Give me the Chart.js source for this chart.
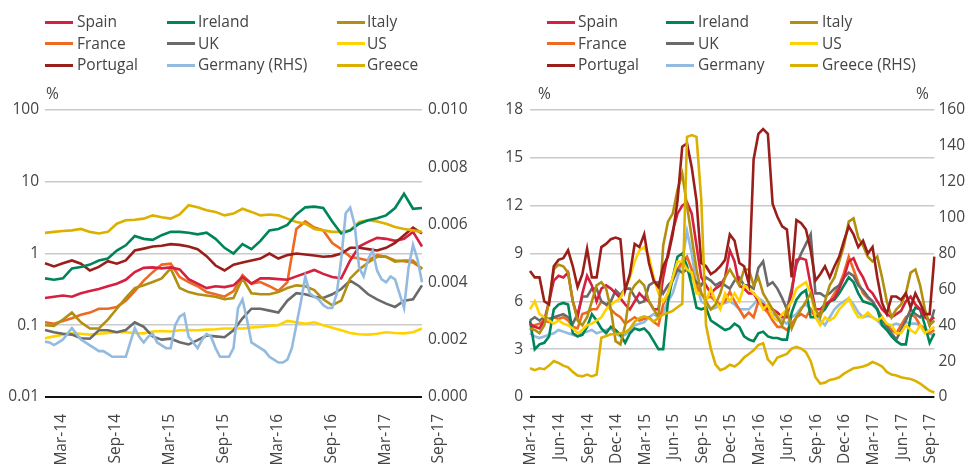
<!DOCTYPE html>
<html><head><meta charset="utf-8">
<script src="https://cdn.jsdelivr.net/npm/chart.js@4.4.1/dist/chart.umd.min.js"></script>
<style>
body{margin:0;background:#fff;width:970px;height:466px;overflow:hidden;font-family:'Open Sans',sans-serif;color:#444;}
.panel{position:absolute;top:0;width:485px;height:466px;}
canvas{position:absolute;left:0;top:0;}
.lg{position:absolute;font-size:15.5px;line-height:20px;white-space:nowrap;}
.sw{position:absolute;height:3px;width:28px;}
.pct{position:absolute;font-size:15.5px;line-height:20px;top:83px;}
</style></head><body>
<div class="panel" id="p1" style="left:0"><canvas id="c1" width="485" height="466"></canvas></div>
<div class="panel" id="p2" style="left:485px"><canvas id="c2" width="485" height="466"></canvas></div>
<script>
// ---------- categories ----------
const months = ['Mar-14','Apr-14','May-14','Jun-14','Jul-14','Aug-14','Sep-14','Oct-14','Nov-14','Dec-14',
 'Jan-15','Feb-15','Mar-15','Apr-15','May-15','Jun-15','Jul-15','Aug-15','Sep-15','Oct-15','Nov-15','Dec-15',
 'Jan-16','Feb-16','Mar-16','Apr-16','May-16','Jun-16','Jul-16','Aug-16','Sep-16','Oct-16','Nov-16','Dec-16',
 'Jan-17','Feb-17','Mar-17','Apr-17','May-17','Jun-17','Jul-17','Aug-17','Sep-17'];
const halfMonths = months.flatMap(m => [m, m + ' (mid)']);
const leftCategories = halfMonths.slice(0, 85);   // Mar-14 .. Sep-17
const leftXTicks = ['Mar-14','Sep-14','Mar-15','Sep-15','Mar-16','Sep-16','Mar-17','Sep-17'];
const rightXTicks = ['Mar-14','Jun-14','Sep-14','Dec-14','Mar-15','Jun-15','Sep-15','Dec-15','Mar-16','Jun-16','Sep-16','Dec-16','Mar-17','Jun-17','Sep-17'];
const leftYTicks = [0.01, 0.1, 1, 10, 100];
const leftYLabels = ['0.01','0.1','1','10','100'];

// ---------- left panel (monthly, %, log scale; Germany half-monthly on RHS) ----------
const spainL = [0.24,0.25,0.26,0.25,0.28,0.3,0.32,0.35,0.38,0.43, 0.55,0.63,0.64,0.62,0.64,0.6,0.44,0.38,0.33,0.35, 0.34,0.36,0.47,0.38,0.45,0.45,0.44,0.43,0.48,0.53, 0.59,0.52,0.47,0.45,0.8,1.25,1.45,1.65,1.6,1.5, 1.6,2.0,1.25];
const irelandL = [0.45,0.43,0.45,0.62,0.65,0.7,0.8,0.85,1.1,1.3, 1.75,1.6,1.55,1.8,2.0,2.0,1.95,1.85,1.95,1.6, 1.2,1.0,1.35,1.15,1.5,2.1,2.2,2.5,3.5,4.4, 4.5,4.3,2.8,1.9,2.1,2.6,2.9,3.1,3.4,4.3, 6.8,4.2,4.3];
const italyL = [0.1,0.098,0.12,0.15,0.11,0.09,0.09,0.12,0.17,0.24, 0.33,0.36,0.4,0.45,0.62,0.33,0.29,0.27,0.26,0.25, 0.23,0.24,0.45,0.28,0.27,0.27,0.29,0.33,0.36,0.35, 0.31,0.23,0.19,0.22,0.45,0.6,0.75,0.9,0.9,0.77, 0.8,0.8,0.6];
const franceL = [0.11,0.105,0.115,0.125,0.14,0.15,0.17,0.17,0.18,0.22, 0.3,0.42,0.55,0.7,0.72,0.47,0.4,0.35,0.29,0.27, 0.25,0.3,0.5,0.38,0.4,0.35,0.3,0.4,2.2,2.8, 2.3,2.1,1.4,1.15,0.9,0.85,0.8,0.95,0.9,0.8, 0.78,0.75,0.62];
const ukL = [0.086,0.08,0.076,0.074,0.066,0.065,0.085,0.085,0.08,0.086, 0.11,0.095,0.07,0.063,0.065,0.058,0.054,0.062,0.072,0.07, 0.068,0.085,0.125,0.17,0.17,0.16,0.15,0.22,0.28,0.27, 0.25,0.24,0.27,0.32,0.42,0.35,0.27,0.23,0.2,0.18, 0.22,0.23,0.36];
const usL = [0.066,0.07,0.074,0.077,0.076,0.074,0.076,0.078,0.08,0.08, 0.078,0.077,0.082,0.083,0.082,0.085,0.086,0.085,0.087,0.088, 0.09,0.09,0.09,0.093,0.095,0.098,0.1,0.115,0.11,0.105, 0.11,0.1,0.092,0.085,0.078,0.075,0.074,0.076,0.08,0.078, 0.077,0.08,0.09];
const portugalL = [0.73,0.66,0.73,0.8,0.72,0.58,0.65,0.78,0.72,0.8, 1.1,1.17,1.25,1.28,1.35,1.32,1.25,1.15,0.92,0.68, 0.58,0.7,0.75,0.8,0.85,1.0,0.85,0.95,1.0,0.97, 0.94,0.9,0.92,1.0,1.2,1.2,1.15,1.1,1.2,1.4, 1.8,2.3,1.9];
const greeceL = [1.94,2.0,2.06,2.1,2.2,2.0,1.9,2.0,2.6,2.9, 2.96,3.06,3.4,3.2,3.06,3.5,4.7,4.4,4.0,3.8, 3.4,3.6,4.2,3.8,3.4,3.5,3.4,3.06,2.75,2.6, 2.2,2.1,2.0,2.0,2.1,2.75,2.9,2.8,2.6,2.34, 2.2,2.1,2.0];
const germanyL = [0.00193,0.0019, 0.00181,0.0019, 0.002,0.0022, 0.0024,0.0022, 0.002,0.0019,
 0.0018,0.0017, 0.0016,0.0016, 0.0015,0.0014, 0.0014,0.0014, 0.0014,0.0019,
 0.0024,0.0021, 0.0019,0.0021, 0.0022,0.0019, 0.0018,0.0017, 0.0017,0.0025,
 0.0028,0.0029, 0.0021,0.0019, 0.0017,0.002, 0.0022,0.0021, 0.0017,0.0014,
 0.0014,0.0014, 0.0017,0.0031, 0.0034,0.0027, 0.0019,0.0018, 0.0017,0.0016,
 0.0014,0.0013, 0.0012,0.0012, 0.0013,0.0017, 0.0025,0.0033, 0.0042,0.0036,
 0.0035,0.0034, 0.0032,0.0031, 0.0031,0.0036, 0.0048,0.0064, 0.0066,0.006,
 0.0045,0.0042, 0.0048,0.0051, 0.0044,0.0041, 0.004,0.0042, 0.0041,0.0036,
 0.0031,0.0045, 0.0053,0.0048, 0.004];

// ---------- right panel (half-monthly, %; Greece on RHS) ----------
const spainR = [4.6,4.4, 4.3,4.8, 6.0,7.3, 7.6,7.5, 7.8,6.0,
 5.0,6.5, 7.6,7.0, 6.0,6.8, 7.0,6.8, 6.5,6.2,
 5.8,5.5, 6.0,6.5, 6.2,6.0, 5.5,5.5, 7.5,9.0,
 10.4,11.5, 12.0,12.2, 11.5,9.5, 7.5,7.0, 6.5,6.8,
 7.0,7.5, 9.2,8.5, 7.0,6.8, 6.5,6.5, 6.0,5.8,
 5.5,5.5, 5.3,5.0, 5.0,6.5, 8.6,8.7, 8.6,7.0,
 5.5,5.5, 5.8,6.0, 6.2,6.8, 7.5,8.5, 8.7,8.0,
 7.5,6.8, 6.5,6.0, 5.5,5.2, 5.0,5.2, 5.4,6.0,
 6.3,5.8, 5.5,5.0, 4.8,5.0];
const irelandR = [4.8,3.0, 3.3,3.4, 3.8,5.5, 5.8,5.9, 5.8,4.0,
 3.8,3.9, 4.4,5.2, 4.8,4.3, 4.0,4.4, 4.2,3.9,
 3.4,4.0, 4.3,4.2, 4.3,4.0, 3.5,3.0, 3.0,6.0,
 7.5,8.8, 9.0,8.2, 7.0,5.6, 5.5,5.6, 4.8,4.6,
 4.4,4.2, 4.3,4.6, 4.4,3.8, 3.6,3.5, 4.0,4.1,
 3.8,3.7, 3.7,3.6, 3.6,5.3, 6.1,6.5, 6.7,5.0,
 5.0,5.2, 5.5,6.0, 6.1,6.5, 7.0,7.5, 7.2,6.5,
 6.0,5.9, 5.8,5.5, 4.5,4.2, 3.8,3.5, 3.3,3.3,
 5.0,5.6, 5.5,4.5, 3.4,4.0];
const italyR = [4.3,4.2, 4.0,4.5, 6.0,8.0, 8.3,8.2, 7.8,6.0,
 4.8,4.5, 5.0,6.0, 7.0,7.2, 6.8,5.5, 3.5,3.3,
 4.5,6.5, 7.0,7.3, 7.0,6.0, 5.5,5.0, 9.5,11.0,
 11.5,13.0, 14.0,12.0, 10.0,8.0, 6.5,6.0, 5.5,5.8,
 6.5,7.5, 8.0,7.5, 7.0,8.0, 8.0,7.0, 7.5,6.5,
 6.0,5.5, 5.0,4.5, 5.5,4.3, 5.0,5.5, 6.0,6.5,
 5.5,5.0, 6.0,7.0, 7.5,8.5, 9.5,11.0, 11.2,10.0,
 9.5,8.8, 8.5,8.8, 7.5,6.0, 5.0,5.5, 5.8,6.5,
 7.8,8.0, 7.0,5.5, 4.5,4.8];
const franceR = [4.2,4.5, 4.6,4.8, 4.7,5.0, 4.9,5.0, 4.8,4.4,
 4.3,5.2, 5.3,5.5, 5.5,6.0, 5.8,5.5, 5.2,5.0,
 4.6,4.8, 5.0,4.8, 4.9,5.0, 4.7,4.5, 5.8,6.5,
 7.4,8.0, 8.5,8.8, 8.0,7.0, 6.5,6.2, 6.3,6.0,
 5.8,6.0, 6.6,6.0, 5.5,5.0, 5.3,5.0, 6.0,5.6,
 5.3,4.8, 4.4,4.4, 4.2,4.6, 5.0,5.2, 5.0,5.5,
 5.0,5.3, 5.7,6.0, 6.5,7.0, 7.8,8.8, 8.0,7.2,
 6.5,6.2, 6.0,5.5, 5.0,4.5, 4.2,4.0, 4.5,5.0,
 5.2,5.0, 4.5,4.3, 4.0,4.2];
const ukR = [4.8,5.0, 4.8,5.0, 4.9,5.0, 5.1,5.2, 5.0,4.6,
 5.2,6.3, 6.3,6.8, 6.8,6.0, 5.8,6.0, 6.7,6.4,
 6.8,6.8, 6.3,5.9, 6.0,7.0, 7.2,7.2, 6.5,7.0,
 7.3,8.0, 7.8,8.0, 7.5,7.2, 7.0,7.5, 7.3,7.0,
 7.2,7.0, 6.8,7.3, 7.5,7.0, 7.0,6.8, 8.1,8.5,
 7.0,7.2, 6.8,6.2, 5.5,6.8, 8.3,9.0, 9.6,10.2,
 6.5,6.5, 6.3,6.5, 6.8,7.0, 7.5,7.8, 7.6,7.0,
 6.7,6.3, 6.0,5.5, 4.8,4.4, 4.0,3.6, 4.2,4.8,
 5.5,5.2, 5.0,5.4, 4.5,5.5];
const usR = [5.5,6.0, 5.2,5.0, 4.8,4.6, 4.8,4.6, 4.5,4.3,
 4.0,4.2, 4.5,4.6, 4.8,5.0, 5.5,5.8, 6.0,6.2,
 6.8,7.5, 8.5,9.2, 9.4,8.8, 7.5,6.5, 6.0,6.5,
 7.5,8.5, 8.5,8.0, 7.8,6.5, 6.5,6.0, 6.8,6.0,
 5.5,6.5, 6.0,6.5, 6.0,7.0, 6.8,6.5, 6.2,5.5,
 5.8,5.0, 4.8,5.2, 5.5,6.0, 6.8,7.0, 7.2,6.5,
 5.0,4.5, 5.0,4.8, 5.0,5.5, 5.8,6.2, 5.5,5.0,
 5.0,5.3, 5.0,4.8, 5.0,4.6, 4.5,4.0, 4.0,4.5,
 4.2,4.0, 4.5,4.0, 4.2,4.4];
const portugalR = [7.9,7.5, 7.5,6.0, 5.8,8.2, 8.6,8.7, 9.2,8.2,
 6.9,7.7, 9.3,7.5, 7.5,9.4, 9.6,9.9, 10.0,9.9,
 6.7,7.7, 9.6,9.4, 10.2,8.4, 7.3,6.9, 8.2,8.8,
 10.2,12.3, 15.7,15.9, 14.4,12.3, 8.4,8.2, 7.7,7.9,
 8.2,8.6, 10.2,9.8, 8.4,8.2, 7.1,14.9, 16.5,16.8,
 16.5,12.1, 11.3,10.7, 10.5,7.5, 11.1,10.9, 10.5,9.2,
 7.3,7.7, 8.2,7.5, 8.2,8.8, 9.8,10.7, 10.2,9.4,
 9.8,9.0, 9.4,7.5, 5.9,5.2, 6.3,6.3, 6.1,6.5,
 5.6,6.5, 5.9,5.2, 5.2,8.8];
const germanyR = [4.0,3.8, 3.7,3.8, 3.9,4.0, 4.2,4.1, 4.0,3.9,
 3.8,4.0, 4.1,4.2, 4.0,4.1, 4.2,4.3, 4.0,3.8,
 3.9,4.2, 4.5,4.6, 4.7,5.0, 5.2,5.0, 5.3,6.0,
 6.5,7.5, 8.5,10.4, 9.0,7.0, 6.0,5.8, 5.5,5.6,
 5.8,5.9, 6.0,5.8, 5.5,5.5, 5.5,5.8, 6.2,6.0,
 5.5,5.2, 5.0,4.8, 4.6,5.0, 5.2,5.6, 5.8,5.5,
 5.2,4.8, 4.5,5.0, 5.5,5.8, 6.0,6.2, 5.8,5.3,
 5.0,5.1, 5.0,4.8, 4.5,4.4, 4.5,4.6, 4.5,4.7,
 4.6,4.6, 4.5,4.2, 4.0,3.8];
const greeceR = [16,15, 16,15.5, 17.5,20, 19,17.5, 16.5,14,
 12,11.5, 12.5,11.5, 12.5,33, 34,35, 35,35.5,
 36,38, 42,44, 45,44, 42,44, 46,47,
 48,50, 52,145, 146,145, 110,40, 27,18,
 15,16, 18,17, 19,22, 24,26, 29,30,
 21,18, 22,23, 24,27, 28,27, 25,20,
 11,7.5, 8,9.5, 10,11, 13,14.5, 16,16.5,
 17,18, 19.5,18.5, 17,14, 12.5,12, 11,10.5,
 10,9, 7.5,5.5, 3.5,2.5];

// ---------- styles ----------
const C = {
  Spain:'#d5203f', Ireland:'#00845a', Italy:'#b38f0f', France:'#ee6a22', UK:'#6a6a6a',
  US:'#ffd300', Portugal:'#9a1e19', Germany:'#93badf', Greece:'#dcb000'
};
const TXT = '#444';
const FONT = {family:"'Open Sans', sans-serif", size:15.5};

function ds(label, data, color, axis, order){
  return {label, data, borderColor:color, backgroundColor:color, borderWidth:2.6,
    pointRadius:0, tension:0, fill:false, yAxisID:axis, order};
}
const monthly = arr => arr.map((v, i) => ({x: months[i], y: v}));
function fixW(w){ return s => { s.width = w; }; }

// legends
function legend(panel, items, swX, txX){
  const p = document.getElementById(panel);
  const rows = [22, 43.5, 65];
  items.forEach((it, i) => {
    const col = i % 3, row = Math.floor(i / 3);
    const sw = document.createElement('div');
    sw.className = 'sw'; sw.style.left = swX[col] + 'px'; sw.style.top = (rows[row] - 1.5) + 'px';
    sw.style.background = it[1];
    p.appendChild(sw);
    const t = document.createElement('div');
    t.className = 'lg'; t.textContent = it[0];
    t.style.left = txX[col] + 'px'; t.style.top = (rows[row] - 11) + 'px';
    p.appendChild(t);
  });
}
legend('p1', [['Spain',C.Spain],['Ireland',C.Ireland],['Italy',C.Italy],['France',C.France],['UK',C.UK],['US',C.US],['Portugal',C.Portugal],['Germany (RHS)',C.Germany],['Greece',C.Greece]], [45,167,337], [77,198,367]);
legend('p2', [['Spain',C.Spain],['Ireland',C.Ireland],['Italy',C.Italy],['France',C.France],['UK',C.UK],['US',C.US],['Portugal',C.Portugal],['Germany',C.Germany],['Greece (RHS)',C.Greece]], [62,181,305], [93,213,337]);

function pct(panel, x){
  const d = document.createElement('div'); d.className = 'pct'; d.textContent = '%';
  d.style.left = x + 'px'; document.getElementById(panel).appendChild(d);
}
pct('p1', 46); pct('p2', 53); pct('p2', 431);

function gridColor(minVal){ return c => (c.tick && c.tick.value === minVal) ? '#111' : '#cacaca'; }
function gridWidth(minVal){ return c => (c.tick && c.tick.value === minVal) ? 2 : 1.6; }

// ---------- left chart ----------
new Chart(document.getElementById('c1'), {
  type:'line',
  data:{ labels: leftCategories, datasets:[
    ds('Germany (RHS)', germanyL, C.Germany, 'y2', 0),
    ds('Ireland', monthly(irelandL), C.Ireland, 'y', 1),
    ds('Greece', monthly(greeceL), C.Greece, 'y', 2),
    ds('Portugal', monthly(portugalL), C.Portugal, 'y', 3),
    ds('Spain', monthly(spainL), C.Spain, 'y', 4),
    ds('Italy', monthly(italyL), C.Italy, 'y', 5),
    ds('France', monthly(franceL), C.France, 'y', 6),
    ds('UK', monthly(ukL), C.UK, 'y', 7),
    ds('US', monthly(usL), C.US, 'y', 8)
  ]},
  options:{
    responsive:false, animation:false, devicePixelRatio:1,
    layout:{padding:{top:110,left:0,right:0,bottom:0}},
    plugins:{legend:{display:false}, tooltip:{enabled:false}},
    scales:{
      x:{ type:'category', offset:false, grid:{display:false, drawTicks:false}, border:{display:false},
          afterFit: s => { s.height = 69; },
          ticks:{ autoSkip:false, maxRotation:90, minRotation:90, labelOffset:17, padding:17, color:TXT, font:FONT,
            callback:function(v){ const l = this.getLabelForValue(v); return leftXTicks.includes(l) ? l : ''; } } },
      y:{ type:'logarithmic', position:'left', min:0.01, max:100,
          afterBuildTicks: s => { s.ticks = leftYTicks.map(v => ({value:v})); },
          afterFit: fixW(45),
          grid:{color:gridColor(0.01), lineWidth:gridWidth(0.01), drawTicks:false}, border:{display:false},
          ticks:{ padding:6, color:TXT, font:FONT, callback:(v) => leftYLabels[leftYTicks.indexOf(v)] ?? '' } },
      y2:{ type:'linear', position:'right', min:0, max:0.01,
          afterFit: fixW(63),
          grid:{display:false, drawTicks:false}, border:{display:false},
          ticks:{ stepSize:0.002, padding:6, color:TXT, font:FONT, callback:(v) => Number(v).toFixed(3) } }
    }
  }
});

// ---------- right chart ----------
new Chart(document.getElementById('c2'), {
  type:'line',
  data:{ labels: halfMonths, datasets:[
    ds('Greece (RHS)', greeceR, C.Greece, 'y2', 0),
    ds('Portugal', portugalR, C.Portugal, 'y', 1),
    ds('Italy', italyR, C.Italy, 'y', 2),
    ds('US', usR, C.US, 'y', 3),
    ds('Spain', spainR, C.Spain, 'y', 4),
    ds('Ireland', irelandR, C.Ireland, 'y', 5),
    ds('UK', ukR, C.UK, 'y', 6),
    ds('France', franceR, C.France, 'y', 7),
    ds('Germany', germanyR, C.Germany, 'y', 8)
  ]},
  options:{
    responsive:false, animation:false, devicePixelRatio:1,
    layout:{padding:{top:110,left:0,right:0,bottom:0}},
    plugins:{legend:{display:false}, tooltip:{enabled:false}},
    scales:{
      x:{ type:'category', offset:false, grid:{display:false, drawTicks:false}, border:{display:false},
          afterFit: s => { s.height = 69; },
          ticks:{ autoSkip:false, maxRotation:90, minRotation:90, labelOffset:1, padding:17, color:TXT, font:FONT,
            callback:function(v){ const l = this.getLabelForValue(v); return rightXTicks.includes(l) ? l : ''; } } },
      y:{ type:'linear', position:'left', min:0, max:18,
          afterFit: fixW(45),
          grid:{color:gridColor(0), lineWidth:gridWidth(0), drawTicks:false}, border:{display:false},
          ticks:{ stepSize:3, padding:7, color:TXT, font:FONT } },
      y2:{ type:'linear', position:'right', min:0, max:160,
          afterFit: fixW(34),
          grid:{display:false, drawTicks:false}, border:{display:false},
          ticks:{ stepSize:20, padding:4, color:TXT, font:FONT } }
    }
  }
});
</script>
</body></html>
